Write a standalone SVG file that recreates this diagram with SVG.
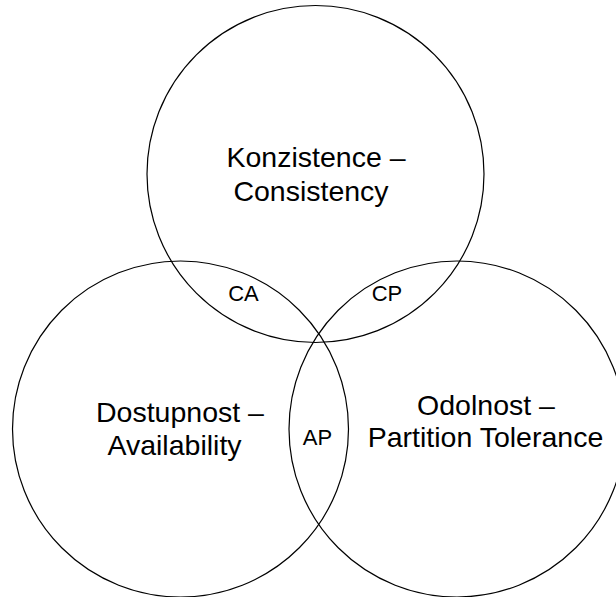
<svg xmlns="http://www.w3.org/2000/svg" width="616" height="597" viewBox="0 0 616 597">
<style>
.c{fill:none;stroke:#000;stroke-width:1.2}
.big{font-family:"Liberation Sans",Arial,Helvetica,sans-serif;font-size:28.5px;fill:#000;text-anchor:middle}
.small{font-family:"Liberation Sans",Arial,Helvetica,sans-serif;font-size:22px;fill:#000;text-anchor:middle}
</style>
<rect width="616" height="597" fill="#fff"/>
<g id="consistency">
<circle class="c" cx="315.5" cy="174" r="168.5"/>
<text class="big" x="316" y="167">Konzistence –</text>
<text class="big" x="311" y="201">Consistency</text>
</g>
<g id="availability">
<circle class="c" cx="180.5" cy="429" r="168"/>
<text class="big" x="180" y="422">Dostupnost –</text>
<text class="big" x="174.5" y="455">Availability</text>
</g>
<g id="partition">
<circle class="c" cx="457" cy="429" r="168"/>
<text class="big" x="486" y="415">Odolnost –</text>
<text class="big" x="485.5" y="447">Partition Tolerance</text>
</g>
<g id="ca"><text class="small" x="243.5" y="301">CA</text></g>
<g id="cp"><text class="small" x="387" y="301">CP</text></g>
<g id="ap"><text class="small" x="317.5" y="445">AP</text></g>
<g id="connectors"></g>
</svg>
